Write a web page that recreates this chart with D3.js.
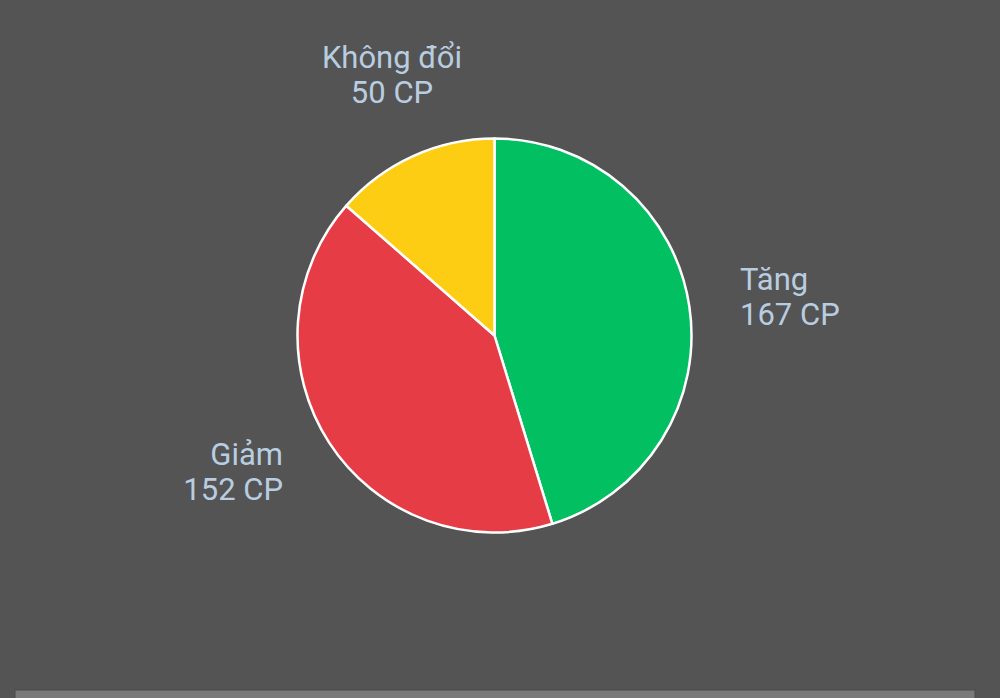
<!DOCTYPE html>
<html>
<head>
<meta charset="utf-8">
<script src="https://cdn.jsdelivr.net/npm/d3@7"></script>
<style>
  html, body { margin: 0; padding: 0; background: #545454; }
  svg { display: block; }
</style>
</head>
<body>
<svg width="1000" height="698"></svg>
<script>
// stock counts by direction
var labels = ["Tăng", "Giảm", "Không đổi"];
var values = [167, 152, 50];
var colors = ["#02c062", "#e63c45", "#fdcd14"];

var svg = d3.select("svg");
var width = +svg.attr("width");
var height = +svg.attr("height");

var cx = 494.5, cy = 335.5, r = 197;

// bottom strip
svg.append("rect")
  .attr("x", 15).attr("y", 690)
  .attr("width", 960).attr("height", 12)
  .attr("fill", "#7a7a7a")
  .attr("stroke", "#4a4a4a")
  .attr("stroke-width", 1);

var pie = d3.pie().sort(null).value((d) => d);
var arc = d3.arc().innerRadius(0).outerRadius(r);
var arcs = pie(values);

var g = svg.append("g").attr("transform", "translate(" + cx + "," + cy + ")");

g.selectAll("path")
  .data(arcs)
  .enter()
  .append("path")
  .attr("d", arc)
  .attr("fill", (d, i) => colors[i])
  .attr("stroke", "#ffffff")
  .attr("stroke-width", 2.5)
  .attr("stroke-linejoin", "round");

// label placement (anchor, x, baseline of first line)
var labelPos = [
  { anchor: "start", x: 740, y: 290 },
  { anchor: "end", x: 283, y: 465 },
  { anchor: "middle", x: 392, y: 68 }
];

var text = svg.selectAll("text.lbl")
  .data(arcs)
  .enter()
  .append("text")
  .attr("class", "lbl")
  .attr("text-anchor", (d, i) => labelPos[i].anchor)
  .attr("font-family", "Roboto, 'Noto Sans', sans-serif")
  .attr("font-size", 31)
  .attr("fill", "#b9cde0");

text.append("tspan")
  .attr("x", (d, i) => labelPos[i].x)
  .attr("y", (d, i) => labelPos[i].y)
  .text((d, i) => labels[i]);

text.append("tspan")
  .attr("x", (d, i) => labelPos[i].x)
  .attr("dy", 35)
  .text((d) => d.data + " CP");
</script>
</body>
</html>
